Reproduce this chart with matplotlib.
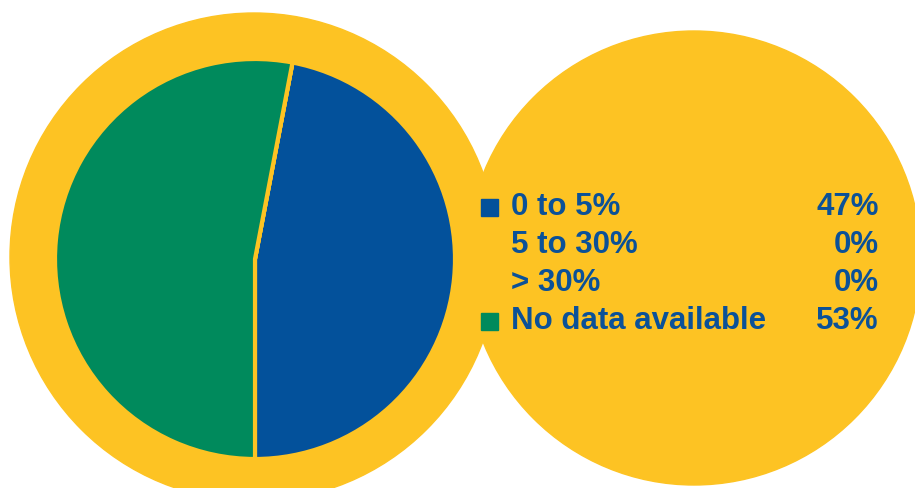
import matplotlib.pyplot as plt
from matplotlib.patches import Circle, Rectangle

# Legend / pie data
labels = ['0 to 5%', '5 to 30%', '> 30%', 'No data available']
values = [47, 0, 0, 53]
colors = ['#03519B', '#E8702A', '#C8102E', '#008A5C']

yellow = '#FDC323'
text_blue = '#0B5198'

W, H = 915, 488
fig = plt.figure(figsize=(W / 100, H / 100), dpi=100)
ax = fig.add_axes([0, 0, 1, 1])

# background circles (pixel coordinates, y up)
ax.add_patch(Circle((254, 231), 244, color=yellow, zorder=0))
ax.add_patch(Circle((694, 230), 227, color=yellow, zorder=0))

# the pie itself
ax.pie(values, colors=colors, startangle=-90, counterclock=True,
       center=(255, 229), radius=200,
       wedgeprops=dict(edgecolor=yellow, linewidth=3))

# legend rows
row_y = [488 - 207, 488 - 245, 488 - 283, 488 - 321]
for lab, val, col, y in zip(labels, values, colors, row_y):
    if val > 0:
        ax.add_patch(Rectangle((481, y - 8.5), 17, 17, color=col, zorder=3))
    ax.text(511, y, lab, fontsize=22.5, fontweight='bold', color=text_blue,
            family='Liberation Sans', va='center', ha='left')
    ax.text(879, y, '%d%%' % val, fontsize=22.5, fontweight='bold', color=text_blue,
            family='Liberation Sans', va='center', ha='right')

ax.set_xlim(0, W)
ax.set_ylim(0, H)
ax.set_aspect('auto')
ax.axis('off')

fig.savefig('out.png', dpi=100, facecolor='white')
